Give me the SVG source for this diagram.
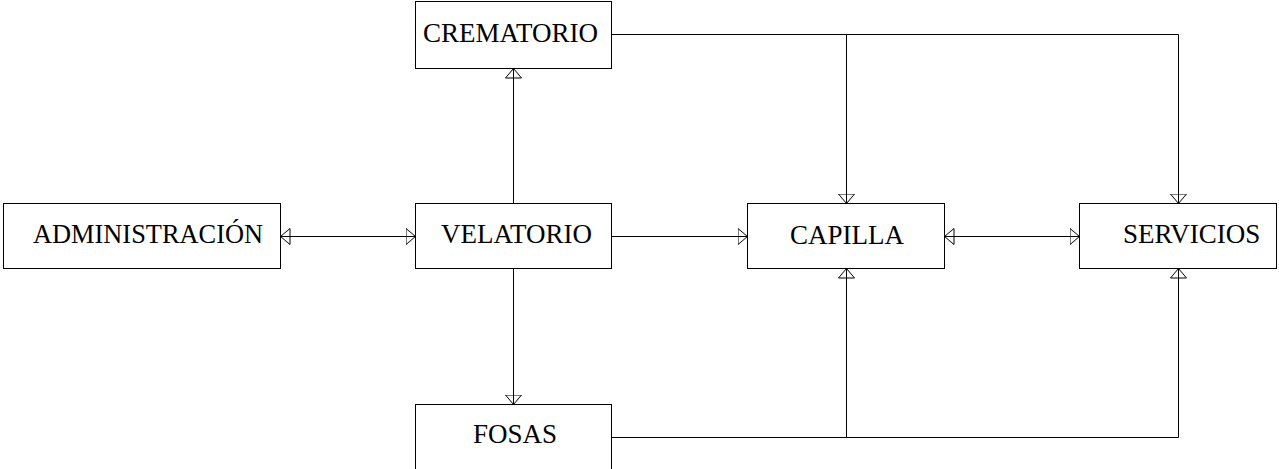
<svg xmlns="http://www.w3.org/2000/svg" width="1279" height="469" viewBox="0 0 1279 469">
<style>
.box{fill:#fff;stroke:#000;stroke-width:1}
.lbl{font-family:'Liberation Serif','Times New Roman','DejaVu Serif',serif;font-size:27px;fill:#000}
.ln{fill:none;stroke:#000;stroke-width:1}
</style>
<defs>
<marker id="tri" viewBox="0 0 11 18" refX="10" refY="9" markerWidth="11" markerHeight="18" markerUnits="userSpaceOnUse" orient="auto-start-reverse">
<path d="M0.5,1 L10,9 L0.5,17 Z" fill="none" stroke="#000" stroke-width="1"/>
</marker>
</defs>
<rect width="1279" height="469" fill="#fff"/>
<g id="connectors">
<line class="ln" x1="280.5" y1="236.5" x2="415.5" y2="236.5" marker-start="url(#tri)" marker-end="url(#tri)"/>
<line class="ln" x1="513.5" y1="203.5" x2="513.5" y2="68.5" marker-end="url(#tri)"/>
<line class="ln" x1="513.5" y1="268.5" x2="513.5" y2="404.5" marker-end="url(#tri)"/>
<line class="ln" x1="611.5" y1="236.5" x2="747.5" y2="236.5" marker-end="url(#tri)"/>
<line class="ln" x1="944.5" y1="236.5" x2="1079.5" y2="236.5" marker-start="url(#tri)" marker-end="url(#tri)"/>
<polyline class="ln" points="611.5,34.5 1178.5,34.5 1178.5,203.5" marker-end="url(#tri)"/>
<line class="ln" x1="846.5" y1="34.5" x2="846.5" y2="203.5" marker-end="url(#tri)"/>
<polyline class="ln" points="611.5,437.5 1178.5,437.5 1178.5,268.5" marker-end="url(#tri)"/>
<line class="ln" x1="846.5" y1="437.5" x2="846.5" y2="268.5" marker-end="url(#tri)"/>
</g>
<g id="crematorio">
<rect class="box" x="415.5" y="1.5" width="196" height="67"/>
<text class="lbl" x="423" y="42">CREMATORIO</text>
</g>
<g id="administracion">
<rect class="box" x="3.5" y="203.5" width="277" height="65"/>
<text class="lbl" x="33" y="243" textLength="230" lengthAdjust="spacingAndGlyphs">ADMINISTRACIÓN</text>
</g>
<g id="velatorio">
<rect class="box" x="415.5" y="203.5" width="196" height="65"/>
<text class="lbl" x="441" y="243">VELATORIO</text>
</g>
<g id="capilla">
<rect class="box" x="747.5" y="203.5" width="197" height="65"/>
<text class="lbl" x="790" y="244">CAPILLA</text>
</g>
<g id="servicios">
<rect class="box" x="1079.5" y="203.5" width="197" height="65"/>
<text class="lbl" x="1123" y="243">SERVICIOS</text>
</g>
<g id="fosas">
<rect class="box" x="415.5" y="404.5" width="196" height="70"/>
<text class="lbl" x="473" y="443">FOSAS</text>
</g>
</svg>
